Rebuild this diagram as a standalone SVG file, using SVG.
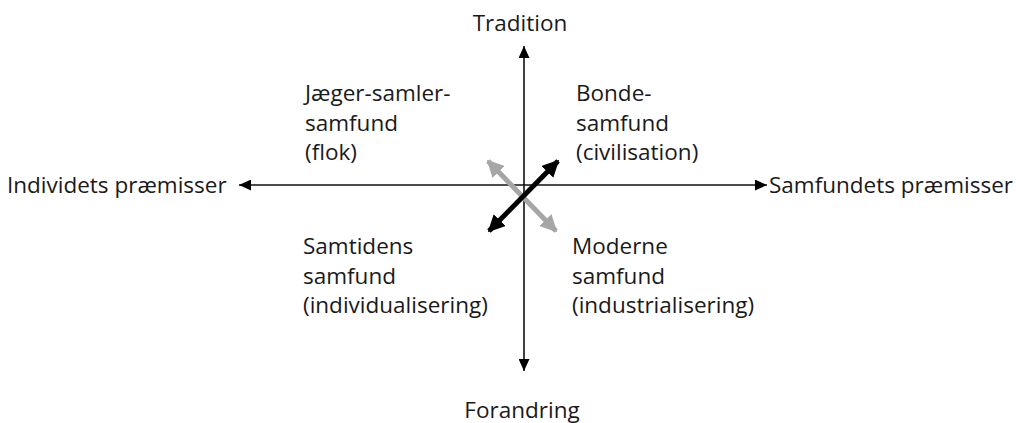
<svg xmlns="http://www.w3.org/2000/svg" width="1016" height="423" viewBox="0 0 1016 423">
<style>
text{font-family:"Open Sans","Noto Sans",sans-serif;font-size:22.5px;fill:#1a1a1a}
.ax{stroke:#111;stroke-width:1.6;fill:none}
.blk{stroke:#000;stroke-width:5;fill:none}
.gry{stroke:#a6a6a6;stroke-width:5;fill:none}
</style>
<defs>
<marker id="ah" viewBox="0 0 10 10" refX="10" refY="5" markerWidth="12" markerHeight="11" markerUnits="userSpaceOnUse" orient="auto-start-reverse" preserveAspectRatio="none"><path d="M0,0L10,5L0,10z" fill="#000"/></marker>
<marker id="bh" viewBox="0 0 10 10" refX="9" refY="5" markerWidth="3.4" markerHeight="3.4" orient="auto-start-reverse"><path d="M0,0L10,5L0,10z" fill="#000"/></marker>
<marker id="gh" viewBox="0 0 10 10" refX="9" refY="5" markerWidth="3.4" markerHeight="3.4" orient="auto-start-reverse"><path d="M0,0L10,5L0,10z" fill="#a6a6a6"/></marker>
</defs>
<g id="connectors">
<line class="ax" x1="524" y1="371" x2="524" y2="46" marker-start="url(#ah)" marker-end="url(#ah)"/>
<line class="ax" x1="239" y1="185" x2="767" y2="185" marker-start="url(#ah)" marker-end="url(#ah)"/>
<line class="gry" x1="488" y1="161" x2="556" y2="231" marker-start="url(#gh)" marker-end="url(#gh)"/>
<line class="blk" x1="489" y1="231" x2="558" y2="161" marker-start="url(#bh)" marker-end="url(#bh)"/>
</g>
<g id="tradition"><text x="520" y="31" text-anchor="middle">Tradition</text></g>
<g id="forandring"><text x="522" y="418" text-anchor="middle">Forandring</text></g>
<g id="individ"><text x="7" y="193">Individets præmisser</text></g>
<g id="samfund"><text x="769" y="193">Samfundets præmisser</text></g>
<g id="jaeger"><text x="305" y="101">Jæger-samler-</text><text x="305" y="131">samfund</text><text x="305" y="160">(flok)</text></g>
<g id="bonde"><text x="576" y="101">Bonde-</text><text x="576" y="131">samfund</text><text x="576" y="160">(civilisation)</text></g>
<g id="samtid"><text x="303" y="254">Samtidens</text><text x="303" y="284">samfund</text><text x="303" y="313">(individualisering)</text></g>
<g id="moderne"><text x="572" y="254">Moderne</text><text x="572" y="284">samfund</text><text x="572" y="313">(industrialisering)</text></g>
</svg>
